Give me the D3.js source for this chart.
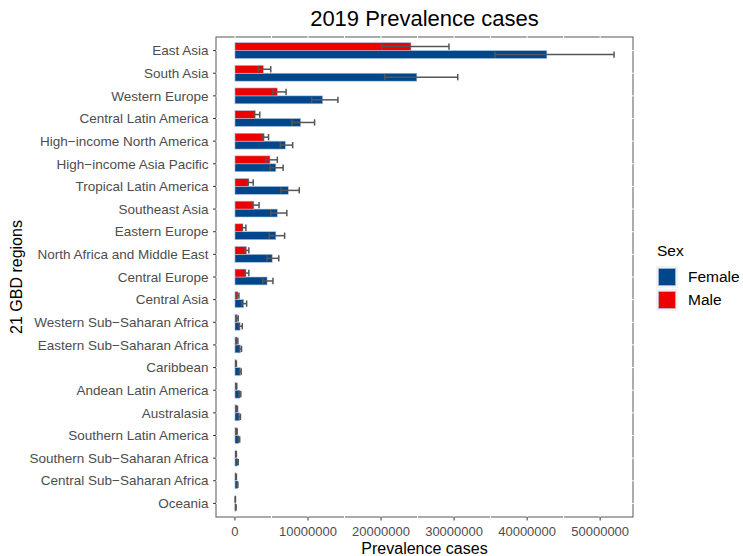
<!DOCTYPE html>
<html><head><meta charset="utf-8">
<script src="https://cdn.jsdelivr.net/npm/d3@7"></script>
<style>body{margin:0;background:#fff}svg{display:block;font-family:"Liberation Sans",Arial,sans-serif}</style>
</head><body><svg id="c" width="743" height="556"></svg>
<script>
const regions = ["East Asia","South Asia","Western Europe","Central Latin America","High\u2212income North America","High\u2212income Asia Pacific","Tropical Latin America","Southeast Asia","Eastern Europe","North Africa and Middle East","Central Europe","Central Asia","Western Sub\u2212Saharan Africa","Eastern Sub\u2212Saharan Africa","Caribbean","Andean Latin America","Australasia","Southern Latin America","Southern Sub\u2212Saharan Africa","Central Sub\u2212Saharan Africa","Oceania"];
const femaleVal = [42700000,24900000,12000000,9000000,6900000,5600000,7300000,5800000,5600000,5100000,4400000,1200000,700000,750000,750000,700000,650000,550000,350000,350000,100000];
const femaleLo  = [35600000,20500000,10500000,7800000,6200000,4800000,6300000,4900000,4700000,4400000,3800000,900000,550000,600000,600000,550000,500000,450000,300000,300000,80000];
const femaleHi  = [51900000,30500000,14100000,10900000,7900000,6600000,8800000,7100000,6800000,6000000,5200000,1600000,1000000,900000,850000,800000,750000,650000,450000,400000,150000];
const maleVal = [24100000,3900000,5800000,2800000,4000000,4800000,1900000,2600000,1100000,1600000,1500000,400000,300000,300000,150000,200000,300000,250000,150000,150000,50000];
const maleLo  = [20100000,3200000,5200000,2600000,3700000,4200000,1800000,2300000,1000000,1400000,1400000,300000,220000,200000,100000,150000,200000,200000,120000,100000,40000];
const maleHi  = [29300000,4900000,7000000,3400000,4600000,5800000,2500000,3300000,1500000,1900000,1900000,550000,450000,400000,200000,250000,350000,300000,200000,200000,70000];
const sexes = ["Male","Female"];
const legendOrder = ["Female","Male"];
const colors = {Female:"#00468B", Male:"#ED0000"};
const xTicks = [0,10000000,20000000,30000000,40000000,50000000];
const xMinor = [5000000,15000000,25000000,35000000,45000000];

const svg = d3.select("#c");
const L=216, R=633, T=37, B=517;
const maxV = d3.max(femaleHi.concat(maleHi));
const ext = maxV*0.05;
const x = d3.scaleLinear().domain([-ext, maxV+ext]).range([L,R]);
const y = d3.scaleBand().domain(regions).range([T,B]).paddingOuter(0.1).paddingInner(0);
const step = y.step();
const y0 = r => y(r) + step/2;
const barW = step*0.7;
const sub = d3.scaleBand().domain(sexes).range([-barW/2, barW/2]);

const data = [];
regions.forEach((r,i)=>{
  data.push({r, sex:"Female", v:femaleVal[i], lo:femaleLo[i], hi:femaleHi[i]});
  data.push({r, sex:"Male", v:maleVal[i], lo:maleLo[i], hi:maleHi[i]});
});

svg.append("rect").attr("x",L).attr("y",T).attr("width",R-L).attr("height",B-T)
  .attr("fill","none").attr("stroke","#666").attr("stroke-width",1.1);
const g = svg.append("g");
g.selectAll(".vmaj").data(xTicks.concat(xMinor)).join("line")
  .attr("x1",d=>x(d)).attr("x2",d=>x(d)).attr("y1",T-1).attr("y2",B+1)
  .attr("stroke","#fff").attr("stroke-width",1);
g.selectAll(".hmaj").data(regions).join("line")
  .attr("y1",d=>y0(d)).attr("y2",d=>y0(d)).attr("x1",L-1).attr("x2",R+1)
  .attr("stroke","#fff").attr("stroke-width",1);

svg.append("g").selectAll("rect").data(data).join("rect")
  .attr("x",x(0)).attr("width",d=>x(d.v)-x(0))
  .attr("y",d=>y0(d.r)+sub(d.sex)).attr("height",sub.bandwidth())
  .attr("fill",d=>colors[d.sex]).attr("stroke","#a9c4e4").attr("stroke-width",0.6);

const cap = sub.bandwidth()*0.8;
const eg = svg.append("g").attr("stroke","#555").attr("stroke-width",1.5).attr("fill","none");
data.forEach(d=>{
  const cy = y0(d.r)+sub(d.sex)+sub.bandwidth()/2;
  eg.append("line").attr("x1",x(d.lo)).attr("x2",x(d.hi)).attr("y1",cy).attr("y2",cy);
  eg.append("line").attr("x1",x(d.lo)).attr("x2",x(d.lo)).attr("y1",cy-cap/2).attr("y2",cy+cap/2);
  eg.append("line").attr("x1",x(d.hi)).attr("x2",x(d.hi)).attr("y1",cy-cap/2).attr("y2",cy+cap/2);
});

const ya = svg.append("g");
ya.selectAll("line").data(regions).join("line")
  .attr("x1",L-3).attr("x2",L).attr("y1",d=>y0(d)).attr("y2",d=>y0(d))
  .attr("stroke","#333").attr("stroke-width",1);
ya.selectAll("text").data(regions).join("text")
  .attr("x",L-7.5).attr("y",d=>y0(d)).attr("dy","0.35em").attr("text-anchor","end")
  .attr("font-size",13.5).attr("fill","#4d4d4d").text(d=>d);

const xa = svg.append("g");
xa.selectAll("line").data(xTicks).join("line")
  .attr("x1",d=>x(d)).attr("x2",d=>x(d)).attr("y1",B).attr("y2",B+3.5)
  .attr("stroke","#333").attr("stroke-width",1);
xa.selectAll("text").data(xTicks).join("text")
  .attr("x",d=>x(d)).attr("y",B+18.5).attr("text-anchor","middle")
  .attr("font-size",13).attr("fill","#4d4d4d").text(d=>d3.format("d")(d));

svg.append("text").attr("x",(L+R)/2).attr("y",26).attr("text-anchor","middle")
  .attr("font-size",22).attr("fill","#000").text("2019 Prevalence cases");
svg.append("text").attr("x",(L+R)/2).attr("y",554).attr("text-anchor","middle")
  .attr("font-size",16).attr("fill","#000").text("Prevalence cases");
svg.append("text").attr("transform",`translate(22,${(T+B)/2}) rotate(-90)`).attr("text-anchor","middle")
  .attr("font-size",16).attr("fill","#000").text("21 GBD regions");

const lg = svg.append("g");
lg.append("text").attr("x",657).attr("y",256).attr("font-size",15.5).attr("fill","#000").text("Sex");
legendOrder.forEach((s,i)=>{
  const cy = 277 + i*23;
  lg.append("rect").attr("x",656).attr("y",cy-11).attr("width",22).attr("height",22).attr("fill","#f2f2f2");
  lg.append("rect").attr("x",658.5).attr("y",cy-8.5).attr("width",17).attr("height",17)
    .attr("fill",colors[s]).attr("stroke","#a9c4e4").attr("stroke-width",0.6);
  lg.append("text").attr("x",688).attr("y",cy).attr("dy","0.35em").attr("font-size",15.5).attr("fill","#000").text(s);
});
</script></body></html>
